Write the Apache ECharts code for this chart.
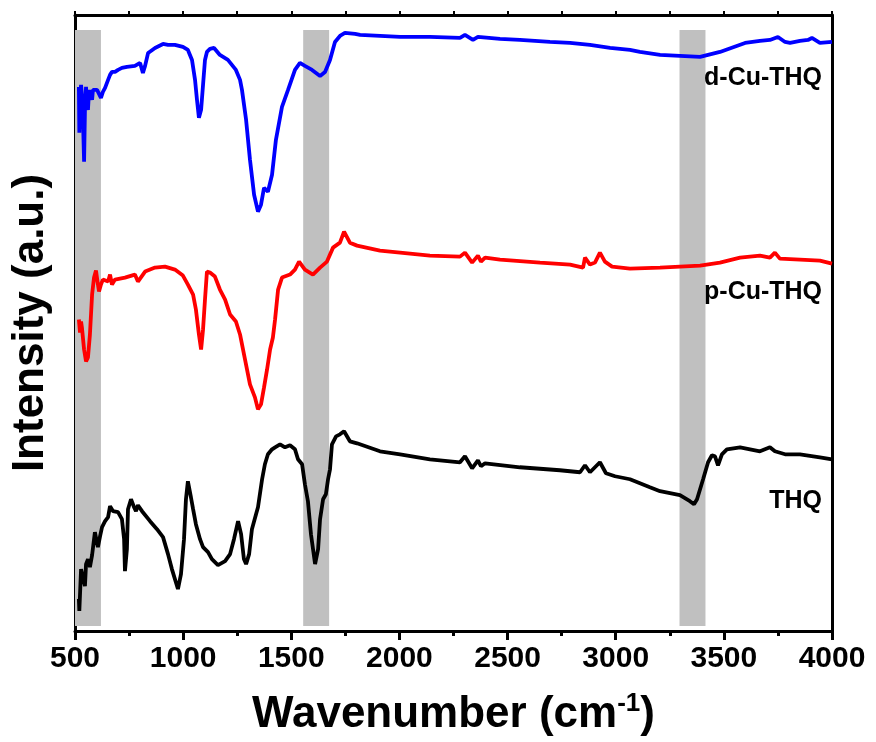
<!DOCTYPE html>
<html>
<head>
<meta charset="utf-8">
<script src="https://cdn.jsdelivr.net/npm/echarts@6/dist/echarts.min.js"></script>
<style>
  html, body { margin: 0; padding: 0; background: #fff; }
  #chart { width: 876px; height: 742px; }
</style>
</head>
<body>
<div id="chart"></div>
<script>
// FTIR spectra, stacked with vertical offsets (arbitrary intensity units)
const xTicks = [500, 1000, 1500, 2000, 2500, 3000, 3500, 4000];

// d-Cu-THQ (blue)
const dCuWave = [518, 520, 523, 528, 532, 537, 542, 546, 551, 555, 560, 565, 569, 574, 579, 583, 592, 602, 611, 620, 629, 639, 653, 662, 671, 685, 699, 717, 740, 777, 801, 814, 824, 838, 870, 907, 930, 962, 999, 1022, 1041, 1055, 1064, 1073, 1083, 1092, 1101, 1110, 1124, 1143, 1170, 1207, 1244, 1263, 1272, 1291, 1309, 1328, 1346, 1360, 1374, 1392, 1411, 1429, 1457, 1485, 1517, 1540, 1563, 1596, 1633, 1656, 1679, 1702, 1725, 1748, 1795, 1818, 2003, 2141, 2280, 2303, 2340, 2363, 2465, 2557, 2696, 2789, 2881, 2974, 3066, 3112, 3205, 3297, 3390, 3482, 3598, 3667, 3713, 3750, 3783, 3806, 3852, 3889, 3907, 3944, 4000];
const dCuInt = [545, 499, 532, 547, 537, 512, 470, 522, 545, 527, 522, 542, 532, 537, 532, 542, 544, 542, 542, 534, 540, 544, 552, 557, 560, 560, 562, 564, 565, 566, 569, 559, 566, 579, 584, 588, 587, 587, 585, 582, 572, 552, 532, 514, 522, 547, 572, 580, 583, 584, 577, 572, 562, 552, 542, 512, 472, 437, 420, 427, 444, 440, 457, 492, 525, 542, 562, 569, 566, 562, 556, 560, 572, 590, 596, 599, 598, 597, 595, 595, 594, 597, 592, 595, 593, 592, 590, 589, 587, 584, 582, 580, 577, 576, 575, 580, 589, 591, 592, 595, 590, 589, 591, 592, 594, 589, 590];

// p-Cu-THQ (red)
const pCuWave = [518, 523, 528, 532, 542, 551, 560, 569, 579, 588, 597, 606, 611, 620, 629, 653, 662, 671, 685, 731, 777, 791, 824, 870, 916, 962, 999, 1022, 1046, 1059, 1073, 1083, 1092, 1101, 1110, 1124, 1147, 1170, 1194, 1217, 1244, 1263, 1286, 1309, 1332, 1346, 1360, 1374, 1388, 1402, 1415, 1425, 1439, 1457, 1494, 1517, 1536, 1563, 1600, 1633, 1665, 1693, 1725, 1744, 1771, 1804, 1910, 2003, 2141, 2280, 2303, 2336, 2363, 2377, 2396, 2465, 2650, 2789, 2849, 2858, 2881, 2904, 2927, 2950, 2983, 3066, 3205, 3390, 3482, 3575, 3667, 3713, 3736, 3759, 3852, 3944, 4000];
const pCuInt = [312, 299, 310, 304, 282, 270, 274, 297, 337, 354, 361, 347, 340, 347, 352, 350, 357, 347, 352, 354, 357, 350, 360, 364, 365, 362, 356, 347, 337, 322, 297, 282, 302, 332, 360, 359, 355, 342, 332, 317, 310, 297, 272, 247, 234, 222, 227, 244, 262, 282, 294, 312, 342, 354, 357, 362, 370, 362, 357, 364, 370, 384, 389, 400, 389, 386, 381, 379, 376, 375, 379, 369, 376, 370, 374, 372, 369, 367, 364, 374, 367, 369, 379, 370, 365, 363, 364, 366, 369, 374, 376, 374, 379, 373, 372, 371, 368];

// THQ (black)
const thqWave = [518, 520, 528, 537, 546, 551, 560, 569, 579, 592, 606, 616, 625, 639, 653, 662, 676, 699, 717, 727, 731, 740, 745, 759, 773, 782, 791, 810, 847, 879, 907, 930, 948, 976, 990, 1004, 1013, 1022, 1036, 1046, 1059, 1078, 1092, 1115, 1133, 1161, 1194, 1217, 1235, 1254, 1268, 1281, 1291, 1305, 1318, 1337, 1346, 1365, 1378, 1392, 1411, 1425, 1448, 1471, 1494, 1517, 1531, 1550, 1563, 1577, 1591, 1610, 1624, 1633, 1647, 1660, 1670, 1679, 1688, 1707, 1725, 1744, 1753, 1771, 1804, 1910, 2003, 2141, 2280, 2303, 2336, 2363, 2377, 2396, 2557, 2742, 2835, 2858, 2881, 2927, 2955, 2997, 3066, 3158, 3205, 3297, 3343, 3362, 3376, 3404, 3427, 3445, 3459, 3473, 3491, 3514, 3575, 3667, 3713, 3736, 3783, 3852, 3944, 4000];
const thqInt = [32, 20, 62, 60, 45, 67, 72, 64, 76, 99, 84, 95, 104, 110, 114, 125, 120, 119, 112, 92, 60, 82, 122, 132, 124, 120, 126, 120, 110, 102, 94, 77, 62, 42, 57, 92, 132, 150, 134, 122, 107, 92, 84, 79, 72, 66, 70, 77, 92, 110, 97, 72, 67, 77, 102, 117, 124, 152, 167, 177, 182, 184, 187, 184, 186, 182, 172, 167, 147, 130, 97, 67, 82, 112, 132, 137, 152, 162, 187, 195, 197, 200, 201, 190, 188, 180, 177, 172, 169, 175, 163, 171, 165, 168, 164, 161, 159, 166, 159, 169, 158, 155, 152, 144, 140, 136, 130, 127, 132, 152, 169, 176, 175, 166, 177, 182, 184, 180, 184, 180, 177, 177, 174, 172];

// Highlighted wavenumber ranges
const bandStart = [500, 1555, 3295];
const bandEnd = [620, 1675, 3415];
const bandLow = 5, bandHigh = 602;

// Spectrum labels
const labelNames = ['d-Cu-THQ', 'p-Cu-THQ', 'THQ'];
const labelWave = [3954, 3954, 3954];
const labelInt = [554, 339, 130];

const FONT = '"Liberation Sans", Arial, Helvetica, sans-serif';

function pairs(xs, ys) { return xs.map((x, i) => [x, ys[i]]); }

const chart = echarts.init(document.getElementById('chart'), null, { renderer: 'canvas' });

const lineBase = {
  type: 'line', showSymbol: false, symbol: 'none', smooth: false,
  xAxisIndex: 0, yAxisIndex: 0, z: 3, silent: true
};

chart.setOption({
  animation: false,
  backgroundColor: '#ffffff',
  grid: { left: 75, right: 44, top: 15, bottom: 110, containLabel: false },
  xAxis: [
    {
      type: 'value', position: 'bottom', min: 500, max: 4000, interval: 500,
      axisLine: { show: true, onZero: false, lineStyle: { color: '#000', width: 3 } },
      axisTick: { show: true, inside: false, length: 9, lineStyle: { color: '#000', width: 3 } },
      minorTick: { show: true, splitNumber: 2, length: 5, lineStyle: { color: '#000', width: 3 } },
      splitLine: { show: false },
      axisLabel: {
        show: true, margin: 13, color: '#000', fontFamily: FONT, fontWeight: 'bold', fontSize: 30,
        formatter: v => (xTicks.indexOf(v) >= 0 ? String(v) : '')
      },
      name: 'Wavenumber (cm{sup|-1})',
      nameLocation: 'middle', nameGap: 60,
      nameTextStyle: {
        color: '#000', fontFamily: FONT, fontWeight: 'bold', fontSize: 44,
        rich: { sup: { fontSize: 26, fontWeight: 'bold', fontFamily: FONT, color: '#000', verticalAlign: 'top', padding: [0, 0, 22, 0] } }
      }
    },
    {
      type: 'value', position: 'top', min: 500, max: 4000, interval: 500,
      axisLine: { show: true, onZero: false, lineStyle: { color: '#000', width: 3 } },
      axisTick: { show: true, inside: false, length: 4, lineStyle: { color: '#000', width: 2 } },
      minorTick: { show: true, splitNumber: 2, length: 4, lineStyle: { color: '#000', width: 2 } },
      splitLine: { show: false },
      axisLabel: { show: false }
    }
  ],
  yAxis: [
    {
      type: 'value', position: 'left', min: 0, max: 617,
      axisLine: { show: true, onZero: false, lineStyle: { color: '#000', width: 3 } },
      axisTick: { show: false }, axisLabel: { show: false }, splitLine: { show: false },
      name: 'Intensity (a.u.)', nameLocation: 'middle', nameRotate: 90, nameGap: 22,
      nameTextStyle: { color: '#000', fontFamily: FONT, fontWeight: 'bold', fontSize: 44 }
    },
    {
      type: 'value', position: 'right', min: 0, max: 617,
      axisLine: { show: true, onZero: false, lineStyle: { color: '#000', width: 3 } },
      axisTick: { show: false }, axisLabel: { show: false }, splitLine: { show: false }
    }
  ],
  series: [
    {
      name: 'bands', type: 'line', data: [], z: 1, silent: true,
      markArea: {
        silent: true,
        itemStyle: { color: '#c0c0c0' },
        data: bandStart.map((s, i) => [
          { xAxis: s, yAxis: bandLow },
          { xAxis: bandEnd[i], yAxis: bandHigh }
        ])
      }
    },
    Object.assign({}, lineBase, {
      name: 'THQ', data: pairs(thqWave, thqInt),
      lineStyle: { color: '#000000', width: 3.8 }, itemStyle: { color: '#000000' }
    }),
    Object.assign({}, lineBase, {
      name: 'p-Cu-THQ', data: pairs(pCuWave, pCuInt),
      lineStyle: { color: '#ff0000', width: 3.8 }, itemStyle: { color: '#ff0000' }
    }),
    Object.assign({}, lineBase, {
      name: 'd-Cu-THQ', data: pairs(dCuWave, dCuInt),
      lineStyle: { color: '#0000ff', width: 3.8 }, itemStyle: { color: '#0000ff' }
    }),
    {
      name: 'labels', type: 'scatter', symbolSize: 0, z: 5, silent: true,
      itemStyle: { opacity: 1 },
      data: labelNames.map((n, i) => ({ value: [labelWave[i], labelInt[i]], name: n })),
      label: {
        show: true, position: 'left', distance: 0, formatter: p => p.name,
        color: '#000000', opacity: 1, fontFamily: FONT, fontWeight: 'bold', fontSize: 25
      }
    }
  ]
});
</script>
</body>
</html>
